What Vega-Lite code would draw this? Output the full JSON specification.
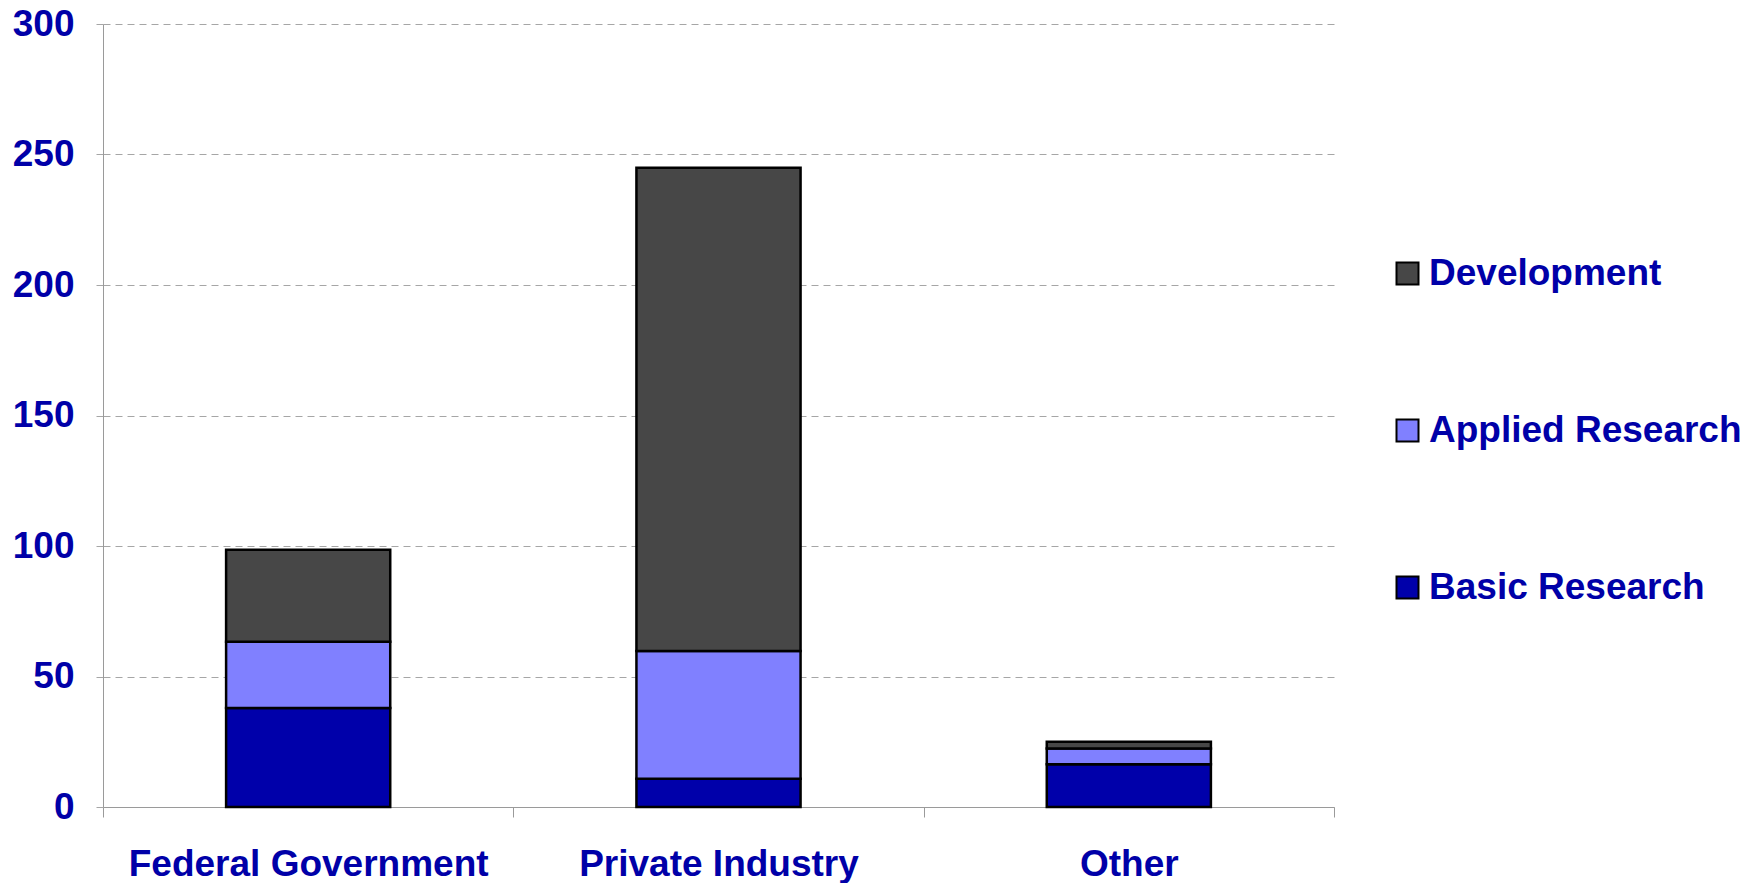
{
  "$schema": "https://vega.github.io/schema/vega-lite/v6.json",
  "autosize": {"type": "none"},
  "padding": {"left": 103, "top": 24, "right": 428, "bottom": 76},
  "width": 1231,
  "height": 783,
  "background": "white",
  "data": {
    "values": [
      {"source": "Federal Government", "type": "Basic Research", "rank": 1, "value": 37.9},
      {"source": "Federal Government", "type": "Applied Research", "rank": 2, "value": 25.4},
      {"source": "Federal Government", "type": "Development", "rank": 3, "value": 35.3},
      {"source": "Private Industry", "type": "Basic Research", "rank": 1, "value": 10.8},
      {"source": "Private Industry", "type": "Applied Research", "rank": 2, "value": 49.0},
      {"source": "Private Industry", "type": "Development", "rank": 3, "value": 185.1},
      {"source": "Other", "type": "Basic Research", "rank": 1, "value": 16.4},
      {"source": "Other", "type": "Applied Research", "rank": 2, "value": 6.0},
      {"source": "Other", "type": "Development", "rank": 3, "value": 2.6}
    ]
  },
  "mark": {"type": "bar", "width": {"band": 0.4}, "stroke": "black", "strokeWidth": 2.5},
  "encoding": {
    "x": {
      "field": "source",
      "type": "nominal",
      "sort": null,
      "scale": {"paddingInner": 0, "paddingOuter": 0},
      "axis": {
        "title": null,
        "labelAngle": 0,
        "labelLimit": 0,
        "tickBand": "extent",
        "tickSize": 10,
        "tickColor": "#9A9A9A",
        "domainColor": "#9A9A9A",
        "labelPadding": 29,
        "labelFont": "Liberation Sans",
        "labelFontSize": 37,
        "labelFontWeight": "bold",
        "labelColor": "#0000A8"
      }
    },
    "y": {
      "field": "value",
      "type": "quantitative",
      "stack": "zero",
      "scale": {"domain": [0, 300], "nice": false},
      "axis": {
        "title": null,
        "values": [0, 50, 100, 150, 200, 250, 300],
        "grid": true,
        "gridColor": "#A6A6A6",
        "gridDash": [7, 5],
        "tickSize": 10,
        "tickColor": "#A6A6A6",
        "tickDash": [7, 5],
        "domainColor": "#9A9A9A",
        "labelPadding": 19,
        "labelFont": "Liberation Sans",
        "labelFontSize": 37,
        "labelFontWeight": "bold",
        "labelColor": "#0000A8"
      }
    },
    "order": {"field": "rank", "type": "quantitative", "sort": "ascending"},
    "color": {
      "field": "type",
      "type": "nominal",
      "sort": ["Development", "Applied Research", "Basic Research"],
      "scale": {
        "domain": ["Development", "Applied Research", "Basic Research"],
        "range": ["#474747", "#8080FF", "#0000AA"]
      },
      "legend": {
        "title": null,
        "orient": "none",
        "legendX": 1286,
        "legendY": 231,
        "symbolType": "square",
        "symbolSize": 484,
        "symbolStrokeColor": "black",
        "symbolStrokeWidth": 2,
        "symbolOpacity": 1,
        "labelFont": "Liberation Sans",
        "labelFontSize": 37,
        "labelFontWeight": "bold",
        "labelColor": "#0000A8",
        "labelOffset": 3,
        "labelLimit": 0,
        "rowPadding": 119
      }
    }
  },
  "config": {"view": {"stroke": null}}
}
